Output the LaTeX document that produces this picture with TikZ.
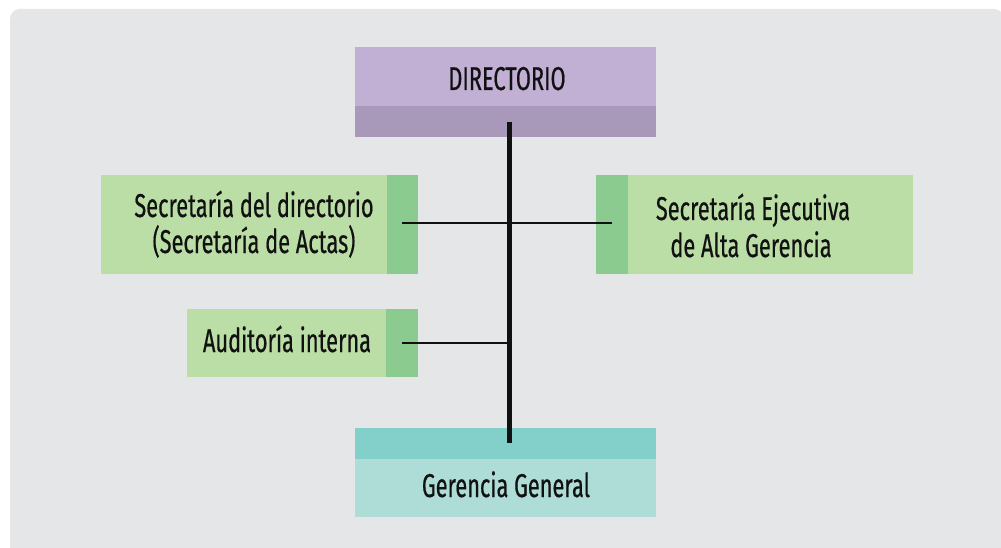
\documentclass[tikz,border=0pt]{standalone}
\usepackage{fontspec}
\setmainfont[FakeStretch=0.66,FakeBold=0.5]{Fira Sans}
\definecolor{panel}{HTML}{E5E6E8}
\definecolor{purpleL}{HTML}{C1AFD4}
\definecolor{purpleD}{HTML}{A899BB}
\definecolor{greenL}{HTML}{BBDDA6}
\definecolor{greenD}{HTML}{8BCB8F}
\definecolor{tealD}{HTML}{83CFC9}
\definecolor{tealL}{HTML}{AEDDD7}
\definecolor{ink}{HTML}{111111}
\begin{document}
\begin{tikzpicture}[x=1pt,y=-1pt,
  box/.style={rectangle,inner sep=0pt,outer sep=0pt,draw=none},
  label/.style={inner sep=0pt,anchor=base,text=ink,font=\fontsize{33}{36}\selectfont},
  trunk/.style={draw=ink,line width=5.5pt},
  branch/.style={draw=ink,line width=2pt}]
\useasboundingbox (0,0) rectangle (1001,548);
\fill[white] (0,0) rectangle (1001,548);
\fill[panel,rounded corners=10pt] (10,9) rectangle (1004,562);
% boxes
\node[box,fill=purpleL,minimum width=301pt,minimum height=90pt] (dir) at (505.5,92) {};
\fill[purpleD] (355,106) rectangle (656,137);
\node[box,fill=greenL,minimum width=317pt,minimum height=99pt] (sec1) at (259.5,224.5) {};
\fill[greenD] (387,175) rectangle (418,274);
\node[box,fill=greenL,minimum width=317pt,minimum height=99pt] (sec2) at (754.5,224.5) {};
\fill[greenD] (596,175) rectangle (628,274);
\node[box,fill=greenL,minimum width=231pt,minimum height=68pt] (aud) at (302.5,343) {};
\fill[greenD] (386,309) rectangle (418,377);
\node[box,fill=tealL,minimum width=301pt,minimum height=89pt] (ger) at (505.5,472.5) {};
\fill[tealD] (355,428) rectangle (656,459);
% texts
\node[label] (dirt) at (507,90) {DIRECTORIO};
\node[label] (s1a) at (254,217) {Secretaría del directorio};
\node[label] (s1b) at (254,253) {(Secretaría de Actas)};
\node[label] (s2a) at (753,220) {Secretaría Ejecutiva};
\node[label] (s2b) at (751,257) {de Alta Gerencia};
\node[label] (audt) at (287,352) {Auditoría interna};
\node[label] (gert) at (506,497) {Gerencia General};
% connectors
\coordinate (vtop) at (509.5,122);
\coordinate (vbot) at (509.5,443);
\coordinate (h1a) at (402,223);
\coordinate (h1b) at (612,223);
\coordinate (h2a) at (402,343);
\coordinate (h2b) at (509.5,343);
\draw[branch] (h1a) -- (h1b);
\draw[branch] (h2a) -- (h2b);
\draw[trunk] (vtop) -- (vbot);
\end{tikzpicture}
\end{document}
